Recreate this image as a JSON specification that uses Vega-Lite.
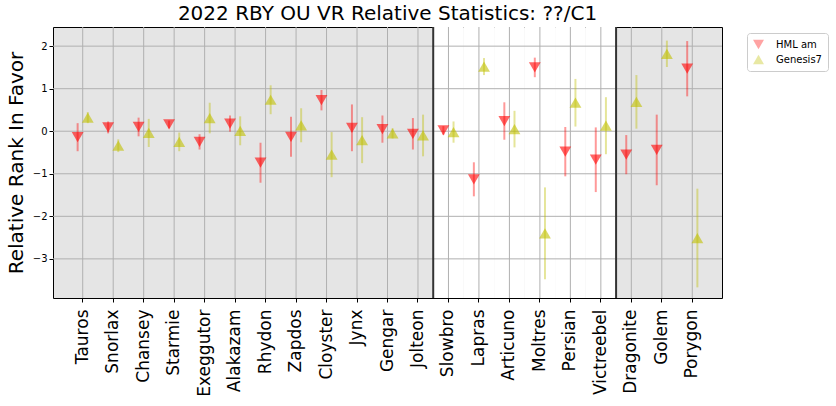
{
  "$schema": "https://vega.github.io/schema/vega-lite/v6.json",
  "width": 669,
  "height": 271,
  "autosize": {"type": "none"},
  "padding": {"left": 53, "top": 27, "right": 114, "bottom": 108},
  "title": {"text": "2022 RBY OU VR Relative Statistics: ??/C1", "fontSize": 20, "fontWeight": "normal", "font": "DejaVu Sans", "color": "black", "anchor": "middle", "offset": 2},
  "config": {
    "font": "DejaVu Sans",
    "view": {"fill": "#e5e5e5", "stroke": "black", "strokeWidth": 1},
    "axis": {"grid": false, "tickColor": "black", "tickSize": 4, "domain": false, "labelColor": "black", "titleColor": "black", "titleFontWeight": "normal", "labelFont": "DejaVu Sans", "titleFont": "DejaVu Sans"}
  },
  "data": {"values": [
    {"name": "Tauros", "group": 1, "series": "HML am", "value": -0.14, "lo": -0.47, "hi": 0.19},
    {"name": "Snorlax", "group": 1, "series": "HML am", "value": 0.09, "lo": -0.05, "hi": 0.23},
    {"name": "Chansey", "group": 1, "series": "HML am", "value": 0.1, "lo": -0.12, "hi": 0.32},
    {"name": "Starmie", "group": 1, "series": "HML am", "value": 0.16, "lo": 0.07, "hi": 0.25},
    {"name": "Exeggutor", "group": 1, "series": "HML am", "value": -0.25, "lo": -0.43, "hi": -0.07},
    {"name": "Alakazam", "group": 1, "series": "HML am", "value": 0.18, "lo": -0.01, "hi": 0.37},
    {"name": "Rhydon", "group": 1, "series": "HML am", "value": -0.74, "lo": -1.21, "hi": -0.27},
    {"name": "Zapdos", "group": 1, "series": "HML am", "value": -0.13, "lo": -0.6, "hi": 0.34},
    {"name": "Cloyster", "group": 1, "series": "HML am", "value": 0.73, "lo": 0.49, "hi": 0.97},
    {"name": "Jynx", "group": 1, "series": "HML am", "value": 0.08, "lo": -0.47, "hi": 0.63},
    {"name": "Gengar", "group": 1, "series": "HML am", "value": 0.05, "lo": -0.27, "hi": 0.37},
    {"name": "Jolteon", "group": 1, "series": "HML am", "value": -0.06, "lo": -0.43, "hi": 0.31},
    {"name": "Slowbro", "group": 2, "series": "HML am", "value": 0.02, "lo": -0.08, "hi": 0.12},
    {"name": "Lapras", "group": 2, "series": "HML am", "value": -1.13, "lo": -1.53, "hi": -0.73},
    {"name": "Articuno", "group": 2, "series": "HML am", "value": 0.24, "lo": -0.2, "hi": 0.68},
    {"name": "Moltres", "group": 2, "series": "HML am", "value": 1.5, "lo": 1.27, "hi": 1.73},
    {"name": "Persian", "group": 2, "series": "HML am", "value": -0.48, "lo": -1.06, "hi": 0.1},
    {"name": "Victreebel", "group": 2, "series": "HML am", "value": -0.67, "lo": -1.43, "hi": 0.09},
    {"name": "Dragonite", "group": 3, "series": "HML am", "value": -0.55, "lo": -1.01, "hi": -0.09},
    {"name": "Golem", "group": 3, "series": "HML am", "value": -0.44, "lo": -1.27, "hi": 0.39},
    {"name": "Porygon", "group": 3, "series": "HML am", "value": 1.47, "lo": 0.82, "hi": 2.12},
    {"name": "Tauros", "group": 1, "series": "Genesis7", "value": 0.32, "lo": 0.19, "hi": 0.45},
    {"name": "Snorlax", "group": 1, "series": "Genesis7", "value": -0.34, "lo": -0.49, "hi": -0.19},
    {"name": "Chansey", "group": 1, "series": "Genesis7", "value": -0.04, "lo": -0.37, "hi": 0.29},
    {"name": "Starmie", "group": 1, "series": "Genesis7", "value": -0.25, "lo": -0.47, "hi": -0.03},
    {"name": "Exeggutor", "group": 1, "series": "Genesis7", "value": 0.31, "lo": -0.05, "hi": 0.67},
    {"name": "Alakazam", "group": 1, "series": "Genesis7", "value": 0.01, "lo": -0.33, "hi": 0.35},
    {"name": "Rhydon", "group": 1, "series": "Genesis7", "value": 0.74, "lo": 0.4, "hi": 1.08},
    {"name": "Zapdos", "group": 1, "series": "Genesis7", "value": 0.14, "lo": -0.26, "hi": 0.54},
    {"name": "Cloyster", "group": 1, "series": "Genesis7", "value": -0.55, "lo": -1.08, "hi": -0.02},
    {"name": "Jynx", "group": 1, "series": "Genesis7", "value": -0.21, "lo": -0.75, "hi": 0.33},
    {"name": "Gengar", "group": 1, "series": "Genesis7", "value": -0.05, "lo": -0.17, "hi": 0.07},
    {"name": "Jolteon", "group": 1, "series": "Genesis7", "value": -0.1, "lo": -0.59, "hi": 0.39},
    {"name": "Slowbro", "group": 2, "series": "Genesis7", "value": -0.02, "lo": -0.27, "hi": 0.23},
    {"name": "Lapras", "group": 2, "series": "Genesis7", "value": 1.52, "lo": 1.32, "hi": 1.72},
    {"name": "Articuno", "group": 2, "series": "Genesis7", "value": 0.05, "lo": -0.38, "hi": 0.48},
    {"name": "Moltres", "group": 2, "series": "Genesis7", "value": -2.4, "lo": -3.48, "hi": -1.32},
    {"name": "Persian", "group": 2, "series": "Genesis7", "value": 0.67, "lo": 0.11, "hi": 1.23},
    {"name": "Victreebel", "group": 2, "series": "Genesis7", "value": 0.13, "lo": -0.54, "hi": 0.8},
    {"name": "Dragonite", "group": 3, "series": "Genesis7", "value": 0.69, "lo": 0.06, "hi": 1.32},
    {"name": "Golem", "group": 3, "series": "Genesis7", "value": 1.82, "lo": 1.51, "hi": 2.13},
    {"name": "Porygon", "group": 3, "series": "Genesis7", "value": -2.51, "lo": -3.67, "hi": -1.35}
  ]},
  "resolve": {"scale": {"xOffset": "independent"}},
  "layer": [
    {
      "transform": [{"filter": "datum.group == 2 && datum.series == 'HML am'"}],
      "mark": {"type": "rect", "color": "white"},
      "encoding": {
        "x": {"field": "name", "type": "nominal",
              "sort": ["Tauros", "Snorlax", "Chansey", "Starmie", "Exeggutor", "Alakazam", "Rhydon", "Zapdos", "Cloyster", "Jynx", "Gengar", "Jolteon", "Slowbro", "Lapras", "Articuno", "Moltres", "Persian", "Victreebel", "Dragonite", "Golem", "Porygon"]}
      }
    },
    {
      "transform": [{"filter": "datum.series == 'HML am'"}],
      "mark": {"type": "rule", "color": "#b0b0b0", "strokeWidth": 1},
      "encoding": {
        "x": {"field": "name", "type": "nominal",
              "sort": ["Tauros", "Snorlax", "Chansey", "Starmie", "Exeggutor", "Alakazam", "Rhydon", "Zapdos", "Cloyster", "Jynx", "Gengar", "Jolteon", "Slowbro", "Lapras", "Articuno", "Moltres", "Persian", "Victreebel", "Dragonite", "Golem", "Porygon"],
              "scale": {"paddingInner": 0, "paddingOuter": 0.475},
              "axis": {"title": null, "labelAngle": 270, "labelFontSize": 17, "labelPadding": 7, "ticks": true}}
      }
    },
    {"data": {"values": [{}]}, "mark": {"type": "rule", "color": "#b0b0b0", "strokeWidth": 1}, "encoding": {"y": {"datum": -3, "type": "quantitative"}}},
    {"data": {"values": [{}]}, "mark": {"type": "rule", "color": "#b0b0b0", "strokeWidth": 1}, "encoding": {"y": {"datum": -2, "type": "quantitative"}}},
    {"data": {"values": [{}]}, "mark": {"type": "rule", "color": "#b0b0b0", "strokeWidth": 1}, "encoding": {"y": {"datum": -1, "type": "quantitative"}}},
    {"data": {"values": [{}]}, "mark": {"type": "rule", "color": "#b0b0b0", "strokeWidth": 1}, "encoding": {"y": {"datum": 0, "type": "quantitative"}}},
    {"data": {"values": [{}]}, "mark": {"type": "rule", "color": "#b0b0b0", "strokeWidth": 1}, "encoding": {"y": {"datum": 1, "type": "quantitative"}}},
    {"data": {"values": [{}]}, "mark": {"type": "rule", "color": "#b0b0b0", "strokeWidth": 1}, "encoding": {"y": {"datum": 2, "type": "quantitative"}}},
    {
      "transform": [
        {"window": [{"op": "row_number", "as": "rn"}], "groupby": ["series", "group"]},
        {"filter": "datum.rn == 1 && datum.group > 1 && datum.series == 'HML am'"}
      ],
      "mark": {"type": "rule", "color": "#333333", "strokeWidth": 2},
      "encoding": {"x": {"field": "name", "type": "nominal", "bandPosition": 0,
              "sort": ["Tauros", "Snorlax", "Chansey", "Starmie", "Exeggutor", "Alakazam", "Rhydon", "Zapdos", "Cloyster", "Jynx", "Gengar", "Jolteon", "Slowbro", "Lapras", "Articuno", "Moltres", "Persian", "Victreebel", "Dragonite", "Golem", "Porygon"]}}
    },
    {
      "mark": {"type": "rule", "strokeWidth": 2, "strokeOpacity": 0.4},
      "encoding": {
        "x": {"field": "name", "type": "nominal",
              "sort": ["Tauros", "Snorlax", "Chansey", "Starmie", "Exeggutor", "Alakazam", "Rhydon", "Zapdos", "Cloyster", "Jynx", "Gengar", "Jolteon", "Slowbro", "Lapras", "Articuno", "Moltres", "Persian", "Victreebel", "Dragonite", "Golem", "Porygon"]},
        "xOffset": {"field": "series", "type": "nominal", "scale": {"type": "point", "domain": ["HML am", "Genesis7"], "padding": 4.58}},
        "y": {"field": "lo", "type": "quantitative", "scale": {"domain": [-3.92, 2.45], "nice": false, "zero": false},
              "axis": {"values": [-3, -2, -1, 0, 1, 2], "title": "Relative Rank In Favor", "titleFontSize": 20, "labelFontSize": 10, "titlePadding": 6, "labelPadding": 2, "labelExpr": "replace(datum.label, '-', '\u2212')"}},
        "y2": {"field": "hi"},
        "color": {"field": "series", "type": "nominal", "scale": {"domain": ["HML am", "Genesis7"], "range": ["#ff0000", "#bfbf00"]}}
      }
    },
    {
      "mark": {"type": "point", "filled": true, "opacity": 0.6, "size": 140},
      "encoding": {
        "x": {"field": "name", "type": "nominal",
              "sort": ["Tauros", "Snorlax", "Chansey", "Starmie", "Exeggutor", "Alakazam", "Rhydon", "Zapdos", "Cloyster", "Jynx", "Gengar", "Jolteon", "Slowbro", "Lapras", "Articuno", "Moltres", "Persian", "Victreebel", "Dragonite", "Golem", "Porygon"]},
        "xOffset": {"field": "series", "type": "nominal", "scale": {"type": "point", "domain": ["HML am", "Genesis7"], "padding": 4.58}},
        "y": {"field": "value", "type": "quantitative"},
        "color": {"field": "series", "type": "nominal", "scale": {"domain": ["HML am", "Genesis7"], "range": ["#ff0000", "#bfbf00"]},
                  "legend": {"orient": "none", "legendX": 694, "legendY": 6, "title": null, "labelFontSize": 10, "labelColor": "black", "symbolSize": 120, "symbolOpacity": 0.6, "symbolStrokeWidth": 0, "padding": 6, "rowPadding": 4, "strokeColor": "#cccccc", "fillColor": "white", "cornerRadius": 3, "labelOffset": 12}},
        "shape": {"field": "series", "type": "nominal", "scale": {"domain": ["HML am", "Genesis7"], "range": ["triangle-down", "triangle-up"]}}
      }
    }
  ]
}
